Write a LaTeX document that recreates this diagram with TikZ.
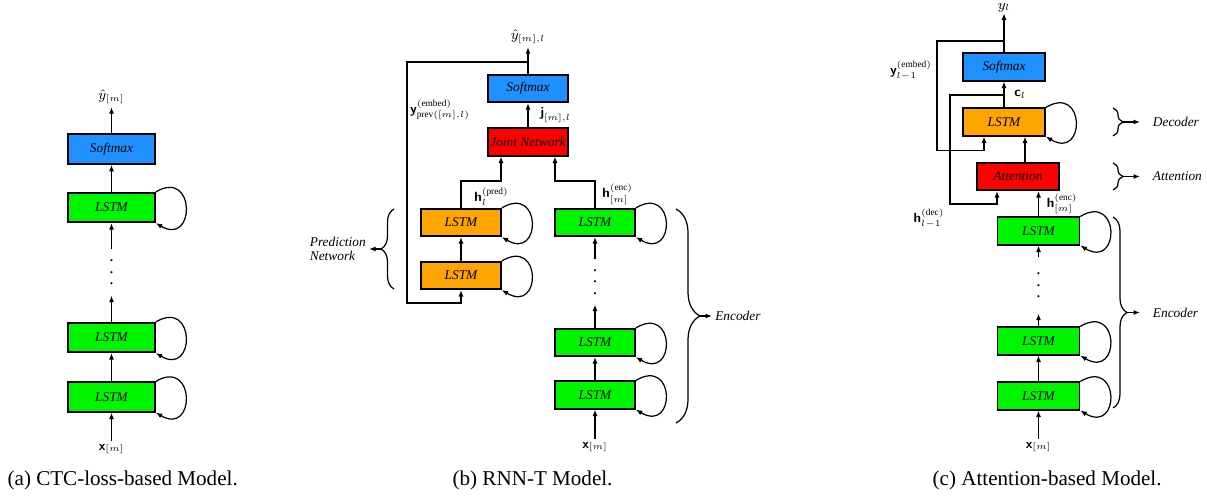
\documentclass[tikz,border=0pt]{standalone}
\usepackage{amsmath}
\usepackage{fontspec}
\setmainfont{Liberation Serif}
\usepackage{tikz}
\usetikzlibrary{positioning,arrows.meta,calc,decorations.pathreplacing}
\usepackage{xcolor}
\definecolor{smblue}{RGB}{30,144,255}
\definecolor{lstmgreen}{RGB}{0,245,0}
\definecolor{predorange}{RGB}{255,165,0}
\definecolor{jointred}{RGB}{255,0,0}
\newcommand{\bvec}[1]{\mbox{\sffamily\bfseries #1}}
\newcommand{\lblfont}{\fontsize{7.6}{7.6}\selectfont}
\newcommand{\capfont}{\fontsize{12}{14}\selectfont}
\newcommand{\vdotsx}{\vbox{\baselineskip=6.5pt\lineskiplimit=0pt\hbox{.}\hbox{.}\hbox{.}}}
\tikzset{
	layer/.style={%
		draw, line width=0.9pt,
		minimum width=#1,
		minimum height=5.5mm,
		inner sep=0pt,
		font=\lblfont\itshape
	},
	layer/.default=16mm,
	lbl/.style={font=\lblfont, inner sep=1.5pt},
	dotcol/.style={inner sep=0pt, minimum width=2mm, minimum height=#1},
	curly/.style={decorate, decoration={brace, amplitude=#1}},
	>={Latex[length=1.3mm,width=1mm]}
}

\begin{document}
\begin{tikzpicture}[x=0.2mm, y=0.2mm, line width=0.7pt]
		\useasboundingbox (0,0) rectangle (1207,496);
		
		% (a) CTC
		\node[layer=17.4mm, minimum height=6mm, fill=smblue] (sm_a) at (111.5,347) {Softmax};
		\node[layer=17.4mm, minimum height=5.9mm, fill=lstmgreen] (la1) at (111.5,288.5) {LSTM};
		\node[dotcol=9mm] (dots_a) at (111.5,223.5) {\vdotsx};
		\node[layer=17.4mm, minimum height=5.9mm, fill=lstmgreen] (la2) at (111.5,158.5) {LSTM};
		\node[layer=17.4mm, minimum height=5.9mm, fill=lstmgreen] (la3) at (111.5,99) {LSTM};
		\node[lbl] (out_a) at (111.5,399) {$\hat{y}_{[m]}$};
		\node[lbl] (in_a) at (111.5,47) {$\bvec{x}_{[m]}$};
		
		\draw[->] (in_a) -- (la3);
		\draw[->] (la3) -- (la2);
		\draw[->] (la2) -- (dots_a);
		\draw[->] (dots_a) -- (la1);
		\draw[->] (la1) -- (sm_a);
		\draw[->] (sm_a) -- (out_a);
		
		% (b) RNN-T
		\node[layer, fill=smblue] (sm_b) at (528,407.5) {Softmax};
		\node[layer, fill=jointred] (jn_b) at (528,354) {Joint Network};
		\node[layer, fill=predorange] (pred1) at (461,273.5) {LSTM};
		\node[layer, fill=predorange] (pred2) at (461,220.5) {LSTM};
		\node[layer, fill=lstmgreen] (enc1) at (595,273.5) {LSTM};
		\node[dotcol=8.8mm] (dots_b) at (595,214) {\vdotsx};
		\node[layer, fill=lstmgreen] (enc2) at (595,153.5) {LSTM};
		\node[layer, fill=lstmgreen] (enc3) at (595,101) {LSTM};
		\node[lbl] (out_b) at (528,459) {$\hat{y}_{[m],l}$};
		\node[lbl] (in_b) at (595,49) {$\bvec{x}_{[m]}$};
		\node[lbl] (yemb_b) at (440,386) {$\bvec{y}^{(\text{embed})}_{\text{prev}([m],l)}$};
		
		\draw[->] (in_b) -- (enc3);
		\draw[->] (enc3) -- (enc2);
		\draw[->] (enc2) -- (dots_b);
		\draw[->] (dots_b) -- (enc1);
		\draw[->] (enc1.north) -- ++(0,27) node[lbl, midway, right, xshift=0.8mm] {$\bvec{h}^{(\text{enc})}_{[m]}$} -| ([xshift=5.4mm]jn_b.south);
		\draw[->] (pred2) -- (pred1);
		\draw[->] (pred1.north) -- ++(0,27) node[lbl, midway, right, xshift=2mm, yshift=-0.4mm] {$\bvec{h}^{(\text{pred})}_{l}$} -| ([xshift=-5.4mm]jn_b.south);
		\draw[->] (jn_b) -- (sm_b) node[lbl, midway, right, xshift=1.8mm] {$\bvec{j}_{[m],l}$};
		\draw[->] (sm_b) -- (out_b);
		\coordinate (fb_b) at (528,434);
		\draw[->] (fb_b) -- ++(-121,0) |- ([yshift=-2.6mm]pred2.south) -- (pred2.south);
		
		% braces of (b)
		\draw[curly=2.6mm] (394,207) -- (394,287);
		\coordinate (ptip_b) at (381,247);
		\node[lbl, anchor=east, align=left, font=\lblfont\itshape] (pnet_b) at (369,247) {Prediction\\Network};
		\draw[->] (ptip_b) -- (pnet_b);
		\draw[curly=4.8mm] (676,287) -- (676,73);
		\coordinate (etip_b) at (700,180);
		\node[lbl, anchor=west, font=\lblfont\itshape] (enc_lbl_b) at (712,180) {Encoder};
		\draw[->] (etip_b) -- (enc_lbl_b);
		
		% (c) attention
		\node[layer=16.4mm, fill=smblue] (sm_c) at (1004,429) {Softmax};
		\node[layer=16.4mm, fill=predorange] (dec_c) at (1004,374) {LSTM};
		\node[layer=16.4mm, fill=jointred] (att_c) at (1018,319.5) {Attention};
		\node[layer=16.4mm, fill=lstmgreen] (ec1) at (1038.5,265) {LSTM};
		\node[dotcol=11mm] (dots_c) at (1038.5,210.5) {\vdotsx};
		\node[layer=16.4mm, fill=lstmgreen] (ec2) at (1038.5,155) {LSTM};
		\node[layer=16.4mm, fill=lstmgreen] (ec3) at (1038.5,100) {LSTM};
		\node[lbl, anchor=north, inner sep=0.5pt] (out_c) at (1004,494.5) {$y_l$};
		\node[lbl] (in_c) at (1038.5,49) {$\bvec{x}_{[m]}$};
		\node[lbl] (yemb_c) at (911,426) {$\bvec{y}^{(\text{embed})}_{l-1}$};
		\node[lbl] (hdec_c) at (929,278) {$\bvec{h}^{(\text{dec})}_{l-1}$};
		
		\draw[->] (in_c) -- (ec3);
		\draw[->] (ec3) -- (ec2);
		\draw[->] (ec2) -- (dots_c);
		\draw[->] (dots_c) -- (ec1);
		\draw[->] (ec1.north) -- (ec1.north |- att_c.south) node[lbl, midway, right, xshift=1mm] {$\bvec{h}^{(\text{enc})}_{[m]}$};
		\draw[->] ([xshift=1.4mm]att_c.north) -- ([xshift=1.4mm]att_c.north |- dec_c.south);
		\draw[->] (dec_c) -- (sm_c) node[lbl, midway, right, xshift=1.4mm] {$\bvec{c}_l$};
		\draw[->] (sm_c) -- (out_c);
		\coordinate (fb_c) at (1004,455);
		\draw[->] (fb_c) -- ++(-67,0) |- ([xshift=-4mm, yshift=-2.8mm]dec_c.south) -- ([xshift=-4mm]dec_c.south);
		\coordinate (hd_c) at (1004,401);
		\draw[->] (hd_c) -- ++(-54,0) |- ([xshift=-4.2mm, yshift=-2.6mm]att_c.south) -- ([xshift=-4.2mm]att_c.south);
		
		% braces of (c)
		\draw[curly=2mm] (1113,388) -- (1113,360);
		\coordinate (dtip_c) at (1123,374);
		\node[lbl, anchor=west, inner xsep=7pt, font=\lblfont\itshape] (dec_lbl_c) at (1140,374) {Decoder};
		\draw[->] (dtip_c) -- (dec_lbl_c);
		\draw[curly=2mm] (1113,333) -- (1113,306);
		\coordinate (atip_c) at (1123,319.5);
		\node[lbl, anchor=west, inner xsep=7pt, font=\lblfont\itshape] (att_lbl_c) at (1140,319.5) {Attention};
		\draw[->] (atip_c) -- (att_lbl_c);
		\draw[curly=2.8mm] (1113,279) -- (1113,88);
		\coordinate (etip_c) at (1127,183.5);
		\node[lbl, anchor=west, inner xsep=7pt, font=\lblfont\itshape] (enc_lbl_c) at (1140,183.5) {Encoder};
		\draw[->] (etip_c) -- (enc_lbl_c);
		
		% self loops
		\foreach \n in {la1,la2,la3,pred1,pred2,enc1,enc2,enc3,dec_c,ec1,ec2,ec3}
			\draw[->] (\n.north east) .. controls +(40,24) and +(40,-24) .. (\n.south east);
		
		% captions
		\node[anchor=west, inner sep=0pt, font=\capfont] (cap_a) at (7,16) {(a) CTC-loss-based Model.};
		\node[anchor=west, inner sep=0pt, font=\capfont] (cap_b) at (452,16) {(b) RNN-T Model.};
		\node[anchor=west, inner sep=0pt, font=\capfont] (cap_c) at (932,16) {(c) Attention-based Model.};
		
\end{tikzpicture}
\end{document}
